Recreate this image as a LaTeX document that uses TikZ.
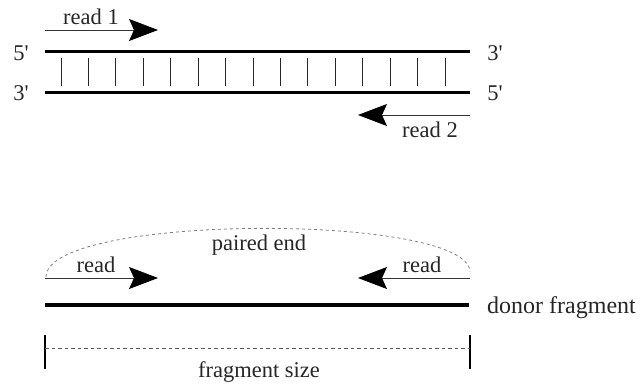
\documentclass[tikz,border=0pt]{standalone}
\usepackage{fontspec}
\setmainfont{Liberation Serif}
\usetikzlibrary{arrows.meta}
\begin{document}
\begin{tikzpicture}[x=1pt,y=-1pt,
  strand/.style={line width=3pt, black},
  tickline/.style={line width=1pt, black!85},
  readarrow/.style={line width=0.9pt, black!80, -{Stealth[length=29pt,width=22pt,inset=5pt,black]}},
  lbl/.style={font=\fontsize{22.5}{27}\selectfont, text=black!85, inner sep=0pt, anchor=base},
  biglbl/.style={font=\fontsize{24}{28}\selectfont, text=black!85, inner sep=0pt, anchor=base west},
  pedash/.style={line width=0.8pt, black!50, dash pattern=on 3pt off 3pt},
  sizedash/.style={line width=0.9pt, black!65, dash pattern=on 3.5pt off 3pt},
  dimbar/.style={line width=1.2pt, black}]
\useasboundingbox (0,0) rectangle (643,386);

% double strand
\coordinate (t1) at (45,51);  \coordinate (t2) at (470,51);
\coordinate (b1) at (45,92);  \coordinate (b2) at (470,92);
\draw[strand] (t1) -- (t2);
\draw[strand] (b1) -- (b2);
\foreach \i in {0,...,14}{
  \coordinate (u\i) at ({61+\i*27.43},58);
  \coordinate (l\i) at ({61+\i*27.43},86);
  \draw[tickline] (u\i) -- (l\i);
}
\node[lbl] (p5l) at (21,60) {5\textquotesingle};
\node[lbl] (p3l) at (21,100) {3\textquotesingle};
\node[lbl] (p3r) at (495,60) {3\textquotesingle};
\node[lbl] (p5r) at (495,100) {5\textquotesingle};

% read 1 / read 2
\coordinate (r1s) at (45,30); \coordinate (r1e) at (158,30);
\draw[readarrow] (r1s) -- (r1e);
\node[lbl] (r1l) at (91,24) {read 1};
\coordinate (r2s) at (470,115); \coordinate (r2e) at (358,115);
\draw[readarrow] (r2s) -- (r2e);
\node[lbl] (r2l) at (430,137) {read 2};

% paired end
\coordinate (pa) at (46,277); \coordinate (pb) at (470,272);
\coordinate (pc1) at (46,213); \coordinate (pc2) at (470,213);
\draw[pedash] (pa) .. controls (pc1) and (pc2) .. (pb);
\node[lbl] (pel) at (259,250) {paired end};

\coordinate (ra1) at (45,278); \coordinate (ra2) at (158,278);
\draw[readarrow] (ra1) -- (ra2);
\node[lbl] (ral) at (96,272) {read};
\coordinate (rb1) at (470,278); \coordinate (rb2) at (358,278);
\draw[readarrow] (rb1) -- (rb2);
\node[lbl] (rbl) at (422,272) {read};

% donor fragment
\coordinate (d1) at (45,305); \coordinate (d2) at (469,305);
\draw[line width=3.5pt] (d1) -- (d2);
\node[biglbl] (dl) at (487,313) {donor fragment};

% fragment size
\coordinate (f1t) at (45,335); \coordinate (f1b) at (45,369);
\coordinate (f2t) at (470,335); \coordinate (f2b) at (470,369);
\draw[dimbar] (f1t) -- (f1b);
\draw[dimbar] (f2t) -- (f2b);
\coordinate (fm1) at (45,348.5); \coordinate (fm2) at (470,348.5);
\draw[sizedash] (fm1) -- (fm2);
\node[lbl] (fsl) at (259,377) {fragment size};
\end{tikzpicture}
\end{document}
